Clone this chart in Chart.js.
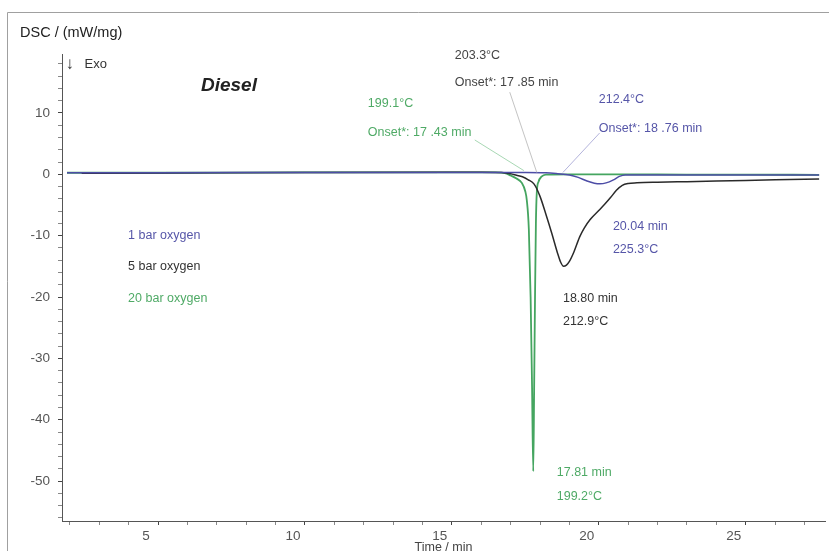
<!DOCTYPE html>
<html>
<head>
<meta charset="utf-8">
<script src="https://cdn.jsdelivr.net/npm/chart.js@4.4.1/dist/chart.umd.min.js"></script>
<style>
html, body { margin: 0; padding: 0; background: #fff; }
#wrap { width: 829px; height: 551px; position: relative; }
</style>
</head>
<body>
<div id="wrap"><canvas id="myChart"></canvas></div>
<script>
// 1 bar oxygen (blue)
var blueTime = [1.9, 5, 10, 15, 16.5, 17.5, 18.2, 18.6, 19.0, 19.3, 19.6, 19.85, 20.04, 20.25, 20.5, 20.7, 20.9, 21.2, 23, 25, 27.5];
var blueDsc = [0.25, 0.25, 0.3, 0.3, 0.3, 0.3, 0.25, 0.1, -0.1, -0.5, -1.1, -1.45, -1.55, -1.4, -0.9, -0.35, -0.1, -0.1, -0.1, -0.1, -0.1];
// 5 bar oxygen (black)
var blackTime = [2.4, 5, 10, 15, 16, 16.7, 17.0, 17.2, 17.4, 17.6, 17.8, 18.0, 18.2, 18.4, 18.6, 18.7, 18.8, 18.9, 19.0, 19.15, 19.35, 19.5, 19.7, 20.0, 20.2, 20.4, 20.6, 20.8, 21.0, 21.3, 22, 23, 24, 25, 26, 27, 27.5];
var blackDsc = [0.15, 0.2, 0.3, 0.35, 0.35, 0.3, 0.1, -0.15, -0.4, -0.9, -1.6, -3.6, -6.5, -9.6, -12.9, -14.3, -15.0, -14.8, -14.2, -12.7, -10.2, -8.8, -7.4, -5.9, -4.9, -3.8, -2.6, -1.8, -1.5, -1.4, -1.3, -1.2, -1.1, -1.0, -0.9, -0.8, -0.75];
// 20 bar oxygen (green)
var greenTime = [1.9, 5, 10, 15, 16.5, 16.8, 17.0, 17.2, 17.38, 17.5, 17.55, 17.62, 17.68, 17.73, 17.77, 17.8, 17.83, 17.86, 17.89, 17.95, 18.05, 18.2, 19, 21, 23, 25, 27.5];
var greenDsc = [0.25, 0.25, 0.3, 0.3, 0.3, 0.2, -0.2, -0.7, -1.4, -2.8, -4.2, -9, -20, -35, -48.4, -35, -20, -8, -3, -1.2, -0.4, -0.05, 0, 0, -0.05, -0.05, -0.1];

var xTicks = [5, 10, 15, 20, 25];
var yTicks = [10, 0, -10, -20, -30, -40, -50];

var font = "'Liberation Sans', Arial, sans-serif";

function pts(t, v) {
  var out = [];
  for (var i = 0; i < t.length; i++) out.push({ x: t[i], y: v[i] });
  return out;
}

function isTick(list, v) {
  var r = Math.round(v);
  return Math.abs(v - r) < 1e-6 && list.indexOf(r) >= 0;
}

// labels drawn on the plot, placed in data units
var notes = [
  { t: '203.3°C', x: 15.10, y: 19.28, c: '#444' },
  { t: 'Onset*: 17 .85 min', x: 15.10, y: 14.99, c: '#444' },
  { t: '199.1°C', x: 12.14, y: 11.46, c: '#4faa66' },
  { t: 'Onset*: 17 .43 min', x: 12.14, y: 6.78, c: '#4faa66' },
  { t: '212.4°C', x: 20.0, y: 12.22, c: '#5656a8' },
  { t: 'Onset*: 18 .76 min', x: 20.0, y: 7.5, c: '#5656a8' },
  { t: '20.04 min', x: 20.48, y: -8.54, c: '#5656a8' },
  { t: '225.3°C', x: 20.48, y: -12.22, c: '#5656a8' },
  { t: '18.80 min', x: 18.78, y: -20.2, c: '#333' },
  { t: '212.9°C', x: 18.78, y: -24.02, c: '#333' },
  { t: '17.81 min', x: 18.57, y: -48.67, c: '#4faa66' },
  { t: '199.2°C', x: 18.57, y: -52.58, c: '#4faa66' },
  { t: '1 bar oxygen', x: 3.98, y: -10.05, c: '#5656a8' },
  { t: '5 bar oxygen', x: 3.98, y: -15.1, c: '#333' },
  { t: '20 bar oxygen', x: 3.98, y: -20.32, c: '#4faa66' }
];
var leaders = [
  { x1: 16.97, y1: 13.38, x2: 17.89, y2: 0.3, c: '#c4c4c4' },
  { x1: 15.78, y1: 5.59, x2: 17.45, y2: 0.6, c: '#a8d8b4' },
  { x1: 20.03, y1: 6.73, x2: 18.78, y2: 0.3, c: '#b4b4dc' }
];

var extras = {
  id: 'extras',
  beforeDraw: function(chart) {
    var c = chart.ctx;
    c.save();
    c.fillStyle = '#fff';
    c.fillRect(0, 0, chart.width, chart.height);
    // outer frame
    c.strokeStyle = '#a0a0a0';
    c.lineWidth = 1;
    c.beginPath();
    c.moveTo(7.5, chart.height);
    c.lineTo(7.5, 12.5);
    c.lineTo(chart.width, 12.5);
    c.stroke();
    c.restore();
  },
  afterDatasetsDraw: function(chart) {
    var c = chart.ctx;
    var xs = chart.scales.x, ys = chart.scales.y;
    c.save();
    c.lineWidth = 1;
    leaders.forEach(function(l) {
      c.strokeStyle = l.c;
      c.beginPath();
      c.moveTo(xs.getPixelForValue(l.x1), ys.getPixelForValue(l.y1));
      c.lineTo(xs.getPixelForValue(l.x2), ys.getPixelForValue(l.y2));
      c.stroke();
    });
    c.font = '12.5px ' + font;
    c.textBaseline = 'middle';
    c.textAlign = 'left';
    notes.forEach(function(n) {
      c.fillStyle = n.c;
      c.fillText(n.t, xs.getPixelForValue(n.x), ys.getPixelForValue(n.y));
    });
    // Diesel + Exo
    c.fillStyle = '#222';
    c.font = 'italic bold 19px ' + font;
    c.fillText('Diesel', xs.getPixelForValue(6.46), ys.getPixelForValue(14.39));
    c.fillStyle = '#333';
    c.font = '17px ' + font;
    c.fillText('\u2193', xs.getPixelForValue(1.85), ys.getPixelForValue(17.9));
    c.font = '13px ' + font;
    c.fillText('Exo', xs.getPixelForValue(2.5), ys.getPixelForValue(17.97));
    // axis titles
    c.font = '14.5px ' + font;
    c.fillStyle = '#222';
    c.fillText('DSC / (mW/mg)', 20, 33);
    c.font = '12.5px ' + font;
    c.fillStyle = '#444';
    c.textAlign = 'center';
    c.fillText('Time / min', (chart.chartArea.left + chart.chartArea.right) / 2, 548);
    c.restore();
  }
};

var ctx = document.getElementById('myChart');
var myChart = new Chart(ctx, {
  type: 'line',
  data: {
    datasets: [
      {
        label: '1 bar oxygen',
        data: pts(blueTime, blueDsc),
        borderColor: '#4d4da6',
        borderWidth: 1.5,
        pointRadius: 0,
        fill: false,
        cubicInterpolationMode: 'monotone'
      },
      {
        label: '5 bar oxygen',
        data: pts(blackTime, blackDsc),
        borderColor: '#2a2a2a',
        borderWidth: 1.5,
        pointRadius: 0,
        fill: false,
        cubicInterpolationMode: 'monotone'
      },
      {
        label: '20 bar oxygen',
        data: pts(greenTime, greenDsc),
        borderColor: '#45a560',
        borderWidth: 1.8,
        pointRadius: 0,
        fill: false,
        cubicInterpolationMode: 'monotone'
      }
    ]
  },
  options: {
    responsive: true,
    maintainAspectRatio: false,
    animation: false,
    layout: { padding: { top: 54, right: 4, left: 0, bottom: 0 } },
    plugins: {
      legend: { display: false },
      tooltip: { enabled: false }
    },
    scales: {
      x: {
        type: 'linear',
        min: 1.73,
        max: 27.7,
        border: { color: '#555', width: 1 },
        grid: {
          drawOnChartArea: false,
          tickLength: 4,
          tickColor: function(ctx) { return isTick(xTicks, ctx.tick.value) ? '#444' : '#888'; }
        },
        ticks: {
          stepSize: 1,
          includeBounds: false,
          autoSkip: false,
          maxRotation: 0,
          padding: 3,
          labelOffset: -12,
          color: '#555',
          font: { family: font, size: 13.5 },
          callback: function(v) { return isTick(xTicks, v) ? String(Math.round(v)) : ''; }
        },
        afterFit: function(s) { s.height = 30; }
      },
      y: {
        type: 'linear',
        min: -56.5,
        max: 19.6,
        border: { color: '#555', width: 1 },
        grid: {
          drawOnChartArea: false,
          tickLength: 4,
          tickColor: function(ctx) { return isTick(yTicks, ctx.tick.value) ? '#444' : '#888'; }
        },
        ticks: {
          stepSize: 2,
          includeBounds: false,
          autoSkip: false,
          padding: 8,
          color: '#555',
          font: { family: font, size: 13.5 },
          callback: function(v) { return isTick(yTicks, v) ? String(Math.round(v)) : ''; }
        },
        afterFit: function(s) { s.width = 62; }
      }
    }
  },
  plugins: [extras]
});
</script>
</body>
</html>
